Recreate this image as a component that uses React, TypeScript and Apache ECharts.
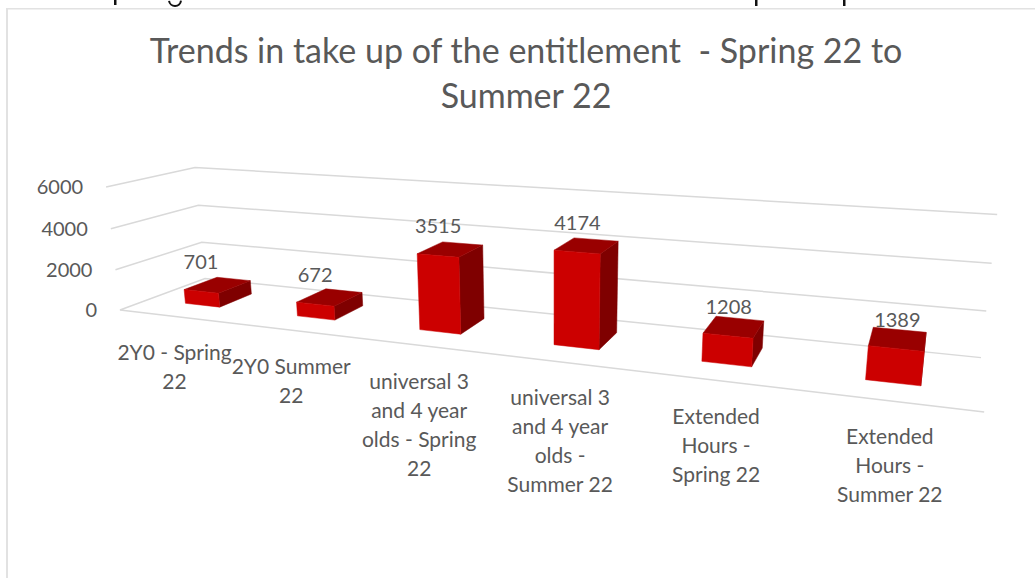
import React, { useEffect, useRef } from "react";
import * as echarts from "echarts";

const categories = [
  "2Y0 - Spring\n22",
  "2Y0 Summer\n22",
  "universal 3\nand 4 year\nolds - Spring\n22",
  "universal 3\nand 4 year\nolds -\nSummer 22",
  "Extended\nHours -\nSpring 22",
  "Extended\nHours -\nSummer 22",
];
const takeUp = [701, 672, 3515, 4174, 1208, 1389];
const ticks = [0, 2000, 4000, 6000];
const titleText = "Trends in take up of the entitlement  - Spring 22 to\nSummer 22";

// hidden cartesian frame that supplies the scales
const GRID = { left: 100, top: 100, width: 600, height: 300 };

// Excel-like 3D perspective: origin and three vanishing points
const ORIGIN = [120, 310];
const VP_X = [-2355, 18];
const VP_Y = [553, 4145];
const VP_Z = [960, 0];
const SCALE_X = -0.2588;
const SCALE_Y = -0.0311;
const SCALE_Z = 0.1126;

const project = (u: number, v: number, w: number): number[] => {
  const U = SCALE_X * u;
  const V = SCALE_Y * v;
  const W = SCALE_Z * w;
  const d = 1 + U + V + W;
  return [
    (ORIGIN[0] + U * VP_X[0] + V * VP_Y[0] + W * VP_Z[0]) / d,
    (ORIGIN[1] + U * VP_X[1] + V * VP_Y[1] + W * VP_Z[1]) / d,
  ];
};

const toU = (px: number) => (px - GRID.left) / GRID.width;
const toV = (py: number) => (GRID.top + GRID.height - py) / GRID.height;

const BAR_RATIO = 0.315;
const DEPTH_FRONT = 0.32;
const DEPTH_BACK = 0.72;
const TEXT = "#595959";
const LINE = "#d9d9d9";
const FONT = "Lato";

const renderGridLine = (params: any, api: any) => {
  const tick = api.value(1);
  const p = api.coord([0, tick]);
  const v = toV(p[1]);
  const pts = [project(0, v, 0), project(0, v, 1), project(1, v, 1)];
  if (tick === 0) pts.unshift(project(1, 0, 0));
  const a = project(0, v, 0);
  return {
    type: "group",
    children: [
      { type: "polyline", shape: { points: pts }, style: { stroke: LINE, lineWidth: 1.5, fill: "none" } },
      {
        type: "text",
        style: {
          text: String(tick),
          x: a[0] - 23,
          y: a[1] - 1,
          align: "right",
          verticalAlign: "middle",
          fill: TEXT,
          fontFamily: FONT,
          fontSize: 20,
        },
      },
    ],
  };
};

const renderBar = (params: any, api: any) => {
  const i = api.value(0);
  const val = api.value(1);
  const c = api.coord([i, val]);
  const band = api.size([1, 0])[0];
  const uc = toU(c[0]);
  const hw = (band / GRID.width) * BAR_RATIO * 0.5;
  const v = toV(c[1]);
  const u0 = uc - hw;
  const u1 = uc + hw;
  const f = DEPTH_FRONT;
  const b = DEPTH_BACK;
  const poly = (points: number[][], fill: string) => ({
    type: "polygon",
    shape: { points },
    style: { fill, stroke: fill, lineWidth: 0.5 },
  });
  const lab = project(uc, v, 0.3);
  const cat = project(uc, 0, 0);
  const lh = 29;
  return {
    type: "group",
    children: [
      poly([project(u1, 0, f), project(u1, 0, b), project(u1, v, b), project(u1, v, f)], "#7f0000"),
      poly([project(u0, v, f), project(u1, v, f), project(u1, v, b), project(u0, v, b)], "#990000"),
      poly([project(u0, 0, f), project(u1, 0, f), project(u1, v, f), project(u0, v, f)], "#cc0000"),
      {
        type: "text",
        style: {
          text: String(val),
          x: lab[0] + 1.5,
          y: lab[1] - 31,
          align: "center",
          verticalAlign: "middle",
          fill: TEXT,
          fontFamily: FONT,
          fontSize: 20,
        },
      },
      {
        type: "text",
        style: {
          text: categories[i],
          x: cat[0],
          y: cat[1] + 35 - lh / 2,
          align: "center",
          verticalAlign: "top",
          lineHeight: lh,
          fill: TEXT,
          fontFamily: FONT,
          fontSize: 21,
        },
      },
    ],
  };
};

export default function App() {
  const ref = useRef<HTMLDivElement>(null);
  useEffect(() => {
    const chart = echarts.init(ref.current!, null, { renderer: "svg" });
    chart.setOption({
      animation: false,
      backgroundColor: "#ffffff",
      title: {
        text: titleText,
        left: 521,
        top: 22,
        textAlign: "center",
        textStyle: { color: TEXT, fontFamily: FONT, fontWeight: "normal", fontSize: 34, lineHeight: 45 },
      },
      grid: GRID,
      xAxis: { type: "category", data: categories, show: false },
      yAxis: { type: "value", min: 0, max: 6000, interval: 2000, show: false },
      series: [
        {
          type: "custom",
          name: "gridlines",
          renderItem: renderGridLine,
          data: ticks.map((t) => [0, t]),
          silent: true,
          z: 1,
        },
        {
          type: "custom",
          name: "Take up",
          renderItem: renderBar,
          data: takeUp.map((t, i) => [i, t]),
          silent: true,
          z: 2,
        },
      ],
      graphic: [
        { type: "rect", shape: { x: 6, y: 8, width: 1029, height: 1.5 }, style: { fill: "#e2e2e2" } },
        { type: "rect", shape: { x: 6, y: 8, width: 2, height: 570 }, style: { fill: "#e2e2e2" } },
        { type: "rect", shape: { x: 114, y: 0, width: 2.5, height: 5 }, style: { fill: "#111" } },
        { type: "rect", shape: { x: 755, y: 0, width: 2.5, height: 6 }, style: { fill: "#111" } },
        { type: "rect", shape: { x: 843, y: 0, width: 2.5, height: 6 }, style: { fill: "#111" } },
        { type: "arc", shape: { cx: 175, cy: 0, r: 6, startAngle: 0.1, endAngle: 3.0 }, style: { stroke: "#111", lineWidth: 2, fill: "none" } },
      ],
    });
    return () => chart.dispose();
  }, []);
  return <div ref={ref} style={{ position: "fixed", left: 0, top: 0, width: 1035, height: 578 }} />;
}
